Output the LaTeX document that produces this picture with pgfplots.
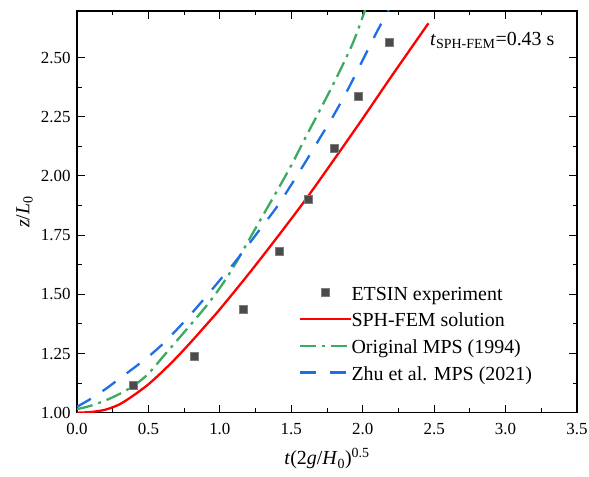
\documentclass[border=0pt]{standalone}
\usepackage{pgfplots}
\pgfplotsset{compat=1.18}
\usepackage{fontspec}
\setmainfont{Liberation Serif}
\definecolor{mygreen}{RGB}{60,170,95}
\definecolor{myblue}{RGB}{30,110,230}
\definecolor{myred}{RGB}{255,0,0}
\definecolor{mygray}{RGB}{75,75,75}
\definecolor{mygrayedge}{RGB}{125,125,125}
\begin{document}
\begin{tikzpicture}
\begin{axis}[
  scale only axis, width=500bp, height=401.7bp,
  xmin=0, xmax=3.5, ymin=1, ymax=2.697,
  xtick={0,0.5,1,1.5,2,2.5,3,3.5},
  ytick={1,1.25,1.5,1.75,2,2.25,2.5},
  minor x tick num=1, minor y tick num=1,
  tick align=inside,
  major tick length=8bp, minor tick length=4.5bp,
  every tick/.style={black, line width=1bp},
  axis line style={line width=1.1bp},
  /pgf/number format/assume math mode=true,
  xticklabel style={/pgf/number format/fixed, /pgf/number format/fixed zerofill, /pgf/number format/precision=1, font=\fontsize{17}{20}\selectfont, yshift=-7bp},
  yticklabel style={/pgf/number format/fixed, /pgf/number format/fixed zerofill, /pgf/number format/precision=2, font=\fontsize{17}{20}\selectfont, xshift=-3bp},
  xlabel={\textit{t}(2\textit{g}/\textit{H}\textsubscript{0})\textsuperscript{0.5}},
  ylabel={\textit{z}/\textit{L}\textsubscript{0}},
  label style={font=\fontsize{20}{24}\selectfont},
  xlabel style={at={(axis description cs:0.5,-0.130)}, anchor=base},
  ylabel style={at={(axis description cs:-0.095,0.5)}, anchor=base},
  legend image code/.code={\draw[mark repeat=2,mark phase=2,#1] plot coordinates {(0bp,0bp) (25bp,0bp) (50bp,0bp)};},
  legend style={draw=none, fill=none, at={(axis description cs:0.444,0.322)}, anchor=north west,
    inner sep=0pt, font=\fontsize{20}{24}\selectfont, row sep=8.4bp,
    nodes={inner sep=0pt}, cells={anchor=west},
    /tikz/every even column/.append style={column sep=4bp}},
  clip=true,
]
\addplot[only marks, mark=square*, mark size=4bp, mark options={fill=mygray, draw=mygrayedge, line width=0.5bp}] coordinates {
(0.394,1.117) (0.821,1.237) (1.167,1.439) (1.416,1.684)
(1.619,1.901) (1.801,2.118) (1.969,2.338) (2.184,2.567)
};
\addlegendentry{\strut ETSIN experiment}
\addplot[myred, line width=2.3bp, smooth] coordinates {
(0,1.000) (0.1,1.003) (0.2,1.013) (0.3,1.036) (0.4,1.075) (0.5,1.120)
(0.6,1.175) (0.7,1.235) (0.8,1.300) (0.9,1.368) (1.0,1.437) (1.2,1.585)
(1.4,1.740) (1.6,1.900) (1.8,2.070) (2.0,2.243) (2.2,2.420) (2.46,2.645)
};
\addlegendentry{\strut SPH-FEM solution}
\addplot[mygreen, line width=2.3bp, smooth, dash pattern=on 16bp off 6bp on 3bp off 6bp] coordinates {
(0,1.015) (0.1,1.030) (0.2,1.052) (0.3,1.080) (0.4,1.115) (0.5,1.165)
(0.6,1.235) (0.7,1.305) (0.8,1.375) (0.9,1.447) (1.0,1.527) (1.1,1.620)
(1.2,1.726) (1.3,1.832) (1.4,1.937) (1.5,2.045) (1.6,2.163) (1.7,2.278)
(1.8,2.395) (1.9,2.520) (1.95,2.590) (2.016,2.700) (2.05,2.76)
};
\addlegendentry{\strut Original MPS (1994)}
\addplot[myblue, line width=2.3bp, smooth, dash pattern=on 16bp off 14bp] coordinates {
(0,1.025) (0.1,1.060) (0.2,1.100) (0.3,1.145) (0.4,1.190) (0.5,1.237)
(0.6,1.290) (0.7,1.352) (0.8,1.418) (0.9,1.488) (1.0,1.560) (1.1,1.632)
(1.2,1.710) (1.3,1.790) (1.4,1.870) (1.5,1.963) (1.6,2.060) (1.7,2.160)
(1.8,2.260) (1.9,2.370) (2.0,2.490) (2.1,2.610) (2.18,2.700) (2.22,2.75)
};
\addlegendentry{\strut Zhu et al. MPS (2021)}
\node[anchor=base west, inner sep=0pt, font=\fontsize{20}{24}\selectfont] at (axis cs:2.471,2.553) {\textit{t}\textsubscript{SPH-FEM}=0.43 s};
\end{axis}
\pgfresetboundingbox
\useasboundingbox ([xshift=-77bp,yshift=-63.3bp]current axis.south west) rectangle ([xshift=12bp,yshift=11bp]current axis.north east);
\end{tikzpicture}
\end{document}
